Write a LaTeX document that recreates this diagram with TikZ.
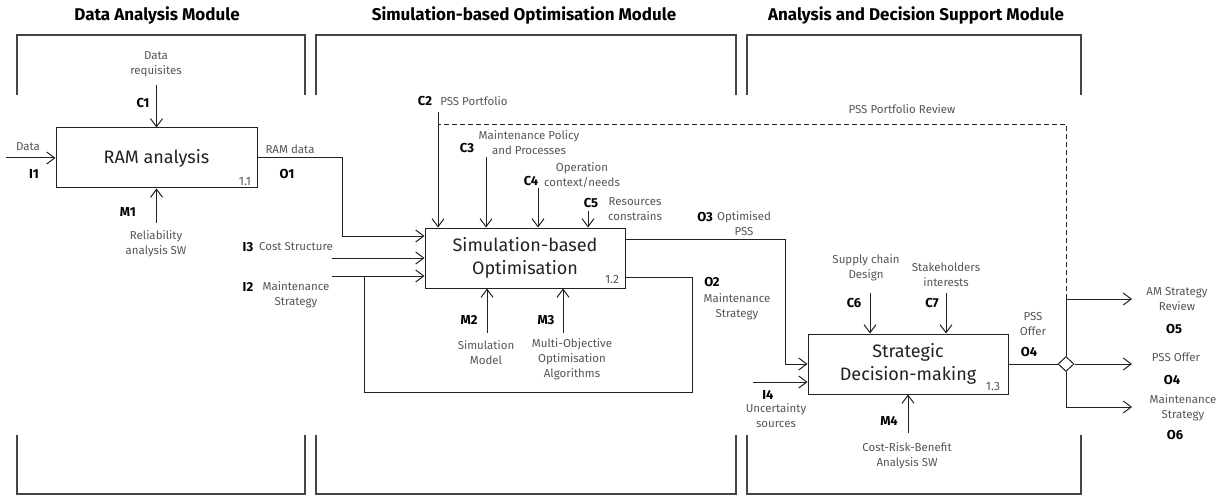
\documentclass[tikz,border=0pt]{standalone}
\usepackage{fontspec}
\setmainfont{Fira Sans}
\usepackage{tikz}
\usetikzlibrary{arrows.meta,positioning,shapes.geometric}
\definecolor{ink}{HTML}{222222}
\definecolor{frame}{HTML}{444444}
\definecolor{muted}{HTML}{555555}
\tikzset{
  func/.style={draw=ink, fill=white, line width=1pt, align=center, inner sep=0pt,
               minimum width=200pt, minimum height=60pt, text=ink,
               font=\fontsize{18}{23}\selectfont},
  lab/.style={align=center, inner sep=0pt, text=muted, font=\fontsize{11.5}{15}\selectfont},
  code/.style={inner sep=0pt, text=black, font=\fontsize{13}{15}\selectfont\bfseries},
  ttl/.style={inner sep=0pt, text=black, font=\fontsize{17}{20}\selectfont\bfseries},
  num/.style={inner sep=0pt, text=muted, font=\fontsize{12}{13}\selectfont},
  arr/.style={-{Straight Barb[length=8pt,width=12pt]}, line width=1pt, draw=ink},
  link/.style={line width=1pt, draw=ink},
  modframe/.style={line width=1.3pt, draw=frame}
}
\begin{document}
\begin{tikzpicture}[x=1pt,y=-1pt]
  \useasboundingbox (0,0) rectangle (1228,497);

  % module frames and titles
  \foreach \l/\r in {17/305,316/736,747/1081} {
    \draw[modframe] (\l,95) |- (\r,35) -- (\r,95);
    \draw[modframe] (\l,435) |- (\r,494) -- (\r,435);
  }
  \node[ttl] (t1) at (157,15) {Data Analysis Module};
  \node[ttl] (t2) at (524,15) {Simulation-based Optimisation Module};
  \node[ttl] (t3) at (916,15) {Analysis and Decision Support Module};

  % function boxes
  \node[func,minimum width=201pt] (ram) at (156.5,158) {RAM analysis};
  \node[func] (sbo) at (525,258) {Simulation-based\\Optimisation};
  \node[func] (sdm) at (908,364) {Strategic\\Decision-making};
  \node[num] (n1) at (245,182) {1.1};
  \node[num] (n2) at (612,279) {1.2};
  \node[num] (n3) at (993,386) {1.3};

  % RAM analysis
  \coordinate (c1s) at (156.5,85);
  \coordinate (i1s) at (6,158);
  \coordinate (m1s) at (156.5,223);
  \draw[arr] (c1s) -- (ram.north);
  \draw[arr] (i1s) -- (ram.west);
  \draw[arr] (m1s) -- (ram.south);
  \node[lab] (c1l) at (156,64.5) {Data\\requisites};
  \node[code] (c1c) at (143,103) {C1};
  \node[lab] (i1l) at (28,147) {Data};
  \node[code] (i1c) at (34,174) {I1};
  \node[code] (m1c) at (128,212) {M1};
  \node[lab] (m1l) at (156,244) {Reliability\\analysis SW};
  \node[lab] (o1l) at (290,149) {RAM data};
  \node[code] (o1c) at (287,174) {O1};

  % simulation-based optimisation
  \coordinate (o1b) at (342,236);
  \coordinate (i3s) at (332,258);
  \coordinate (i2s) at (332,276);
  \draw[arr] (ram.east) -| (o1b) -- (o1b -| sbo.west);
  \draw[arr] (i3s) -- (i3s -| sbo.west);
  \draw[arr] (i2s) -- (i2s -| sbo.west);
  \node[code] (i3c) at (248,247) {I3};
  \node[lab] (i3l) at (296,247) {Cost Structure};
  \node[code] (i2c) at (248,287) {I2};
  \node[lab] (i2l) at (296,295) {Maintenance\\Strategy};

  \coordinate (c2s) at (438,112);
  \coordinate (c3s) at (486,157);
  \coordinate (c4s) at (538,188);
  \coordinate (c5s) at (588,211);
  \foreach \c in {c2s,c3s,c4s,c5s}
    {\draw[arr] (\c) -- (\c |- sbo.north);}
  \node[code] (c2c) at (425,101) {C2};
  \node[lab] (c2l) at (474,101) {PSS Portfolio};
  \node[code] (c3c) at (467,148) {C3};
  \node[lab] (c3l) at (529,142.5) {Maintenance Policy\\and Processes};
  \node[code] (c4c) at (531,181) {C4};
  \node[lab] (c4l) at (582,175.5) {Operation\\context/needs};
  \node[code] (c5c) at (591,203) {C5};
  \node[lab] (c5l) at (635,209.5) {Resources\\constrains};

  \coordinate (m2s) at (487,333);
  \coordinate (m3s) at (563,333);
  \draw[arr] (m2s) -- (m2s |- sbo.south);
  \draw[arr] (m3s) -- (m3s |- sbo.south);
  \node[code] (m2c) at (469,320) {M2};
  \node[lab] (m2l) at (486,353) {Simulation\\Model};
  \node[code] (m3c) at (546,320) {M3};
  \node[lab] (m3l) at (572,359) {Multi-Objective\\Optimisation\\Algorithms};

  % feedback of the maintenance strategy
  \coordinate (o2r) at (692,392);
  \coordinate (o2j) at (364,276);
  \draw[link] ([yshift=-19pt]sbo.east) -| (o2r) -| (o2j);
  \node[code] (o2c) at (712,282) {O2};
  \node[lab] (o2l) at (737,306.5) {Maintenance\\Strategy};

  % strategic decision-making
  \coordinate (o3b) at (785,364);
  \draw[arr] ([yshift=19pt]sbo.east) -| (o3b) -- (sdm.west);
  \node[code] (o3c) at (705,217) {O3};
  \node[lab] (o3l) at (744,223.5) {Optimised\\PSS};

  \coordinate (i4s) at (753,382);
  \draw[arr] (i4s) -- (i4s -| sdm.west);
  \node[code] (i4c) at (768,395) {I4};
  \node[lab] (i4l) at (776,416) {Uncertainty\\sources};

  \coordinate (c6s) at (870,293);
  \coordinate (c7s) at (946,293);
  \draw[arr] (c6s) -- (c6s |- sdm.north);
  \draw[arr] (c7s) -- (c7s |- sdm.north);
  \node[code] (c6c) at (854,303) {C6};
  \node[lab] (c6l) at (866,267.5) {Supply chain\\Design};
  \node[code] (c7c) at (932,303) {C7};
  \node[lab] (c7l) at (946,274.5) {Stakeholders\\interests};

  \coordinate (m4s) at (908,433);
  \draw[arr] (m4s) -- (sdm.south);
  \node[code] (m4c) at (889,421) {M4};
  \node[lab] (m4l) at (907,455.5) {Cost-Risk-Benefit\\Analysis SW};

  % outputs
  \node[draw=ink, line width=1pt, diamond, minimum width=16pt, minimum height=15pt,
        inner sep=0pt] (dia) at (1066,364) {};
  \draw[link] (sdm.east) -- (dia.west);
  \node[lab] (o4l) at (1033,324.5) {PSS\\Offer};
  \node[code] (o4c) at (1029,352) {O4};

  \coordinate (b5) at (1066,299);
  \coordinate (b6) at (1066,407);
  \coordinate (o5e) at (1132,299);
  \coordinate (o4e) at (1132,364);
  \coordinate (o6e) at (1132,407);
  \draw[arr] (dia.north) -- (b5) -- (o5e);
  \draw[arr] (dia.east) -- (o4e);
  \draw[arr] (dia.south) -- (b6) -- (o6e);
  \node[lab] (o5l) at (1177,299.5) {AM Strategy\\Review};
  \node[code] (o5c) at (1174,329) {O5};
  \node[lab] (o4r) at (1176,357) {PSS Offer};
  \node[code] (o4rc) at (1172,380) {O4};
  \node[lab] (o6l) at (1183,407.5) {Maintenance\\Strategy};
  \node[code] (o6c) at (1175,435) {O6};

  % portfolio review loop
  \coordinate (pfr) at (438,124);
  \draw[link, line width=0.8pt, dash pattern=on 5pt off 3pt] (b5) |- (pfr);
  \node[lab] (pfrl) at (902,109) {PSS Portfolio Review};
\end{tikzpicture}
\end{document}
